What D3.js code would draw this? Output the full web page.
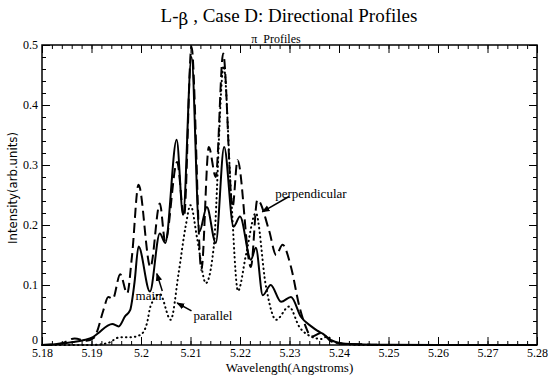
<!DOCTYPE html>
<html>
<head>
<meta charset="utf-8">
<script src="https://cdn.jsdelivr.net/npm/d3@7"></script>
<style>
  body { margin: 0; background: #fff; }
  svg { display: block; }
  .axis path { display: none; }
  .axis line { stroke: #000; stroke-width: 1; }
</style>
</head>
<body>
<svg id="plot" width="550" height="375"></svg>
<script>
// wavelength (Angstroms) / intensity (arb. units)
var mainWl = [5.18, 5.1837, 5.1863, 5.1883, 5.1903, 5.1914, 5.1932, 5.1942, 5.1955, 5.1968, 5.1978, 5.1987, 5.1995,
  5.2018, 5.2038, 5.2049, 5.2072, 5.2085, 5.2102, 5.2118, 5.2133, 5.2151, 5.2168, 5.2187, 5.22, 5.2222, 5.2232,
  5.2246, 5.2262, 5.2283, 5.2303, 5.2323, 5.2344, 5.2356, 5.2367, 5.2384, 5.2404, 5.245, 5.25, 5.26, 5.28];
var mainVal = [0, 0.002, 0.005, 0.008, 0.013, 0.02, 0.032, 0.035, 0.031, 0.048, 0.058, 0.105, 0.164,
  0.089, 0.186, 0.17, 0.342, 0.217, 0.48, 0.189, 0.23, 0.17, 0.33, 0.197, 0.214, 0.142, 0.162,
  0.083, 0.1, 0.072, 0.08, 0.047, 0.031, 0.024, 0.019, 0.008, 0.003, 0.001, 0.0005, 0, 0];

var perpWl = [5.18, 5.184, 5.1866, 5.189, 5.1905, 5.1911, 5.1924, 5.1934, 5.1943, 5.1958, 5.1972, 5.1982, 5.1995,
  5.2019, 5.2038, 5.2049, 5.2073, 5.2087, 5.2102, 5.2122, 5.2137, 5.2151, 5.2166, 5.2185, 5.2195, 5.2222, 5.2235,
  5.2259, 5.2273, 5.2286, 5.2303, 5.232, 5.2333, 5.2344, 5.2364, 5.2384, 5.2404, 5.245, 5.25, 5.28];
var perpVal = [0, 0.003, 0.011, 0.007, 0.012, 0.022, 0.058, 0.08, 0.077, 0.118, 0.086, 0.15, 0.267,
  0.13, 0.236, 0.172, 0.305, 0.214, 0.497, 0.125, 0.33, 0.28, 0.486, 0.23, 0.308, 0.13, 0.242,
  0.19, 0.15, 0.167, 0.13, 0.064, 0.03, 0.014, 0.02, 0.006, 0.002, 0.001, 0, 0];

var paraWl = [5.18, 5.19, 5.1932, 5.1958, 5.198, 5.1999, 5.2012, 5.2019, 5.2038, 5.206, 5.2076, 5.209, 5.21,
  5.2114, 5.2131, 5.2147, 5.2167, 5.2182, 5.2196, 5.2212, 5.2232, 5.2252, 5.2273, 5.2299, 5.232, 5.2344,
  5.2364, 5.2376, 5.2392, 5.245, 5.28];
var paraVal = [0, 0, 0.003, 0.013, 0.013, 0.017, 0.036, 0.064, 0.085, 0.042, 0.12, 0.197, 0.233,
  0.175, 0.103, 0.164, 0.465, 0.25, 0.09, 0.15, 0.22, 0.1, 0.042, 0.064, 0.03, 0.014,
  0.01, 0.014, 0.004, 0, 0];

var xTicks = [5.18, 5.19, 5.20, 5.21, 5.22, 5.23, 5.24, 5.25, 5.26, 5.27, 5.28];
var xTickLabels = ["5.18", "5.19", "5.2", "5.21", "5.22", "5.23", "5.24", "5.25", "5.26", "5.27", "5.28"];
var yTicks = [0, 0.1, 0.2, 0.3, 0.4, 0.5];
var yTickLabels = ["0", "0.1", "0.2", "0.3", "0.4", "0.5"];

// label text, anchor point, arrow start, arrow tip (data coords)
var notes = [
  {text: "main", at: [5.1989, 0.075], from: [5.2043, 0.09], to: [5.2032, 0.119]},
  {text: "parallel", at: [5.2106, 0.042], from: [5.2102, 0.057], to: [5.2073, 0.07]},
  {text: "perpendicular", at: [5.2271, 0.245], from: [5.2299, 0.2475], to: [5.2245, 0.222]}
];

var serif = "'Liberation Serif', 'Times New Roman', Times, serif";

var svg = d3.select("#plot"),
    margin = {top: 45, right: 13, bottom: 30, left: 42},
    width = 550 - margin.left - margin.right,
    height = 375 - margin.top - margin.bottom,
    g = svg.append("g").attr("transform", "translate(" + margin.left + "," + margin.top + ")");

var x = d3.scaleLinear().domain([5.18, 5.28]).range([0, width]);
var y = d3.scaleLinear().domain([0, 0.5]).range([height, 0]);

var xMinor = d3.range(0, 51).map(function(i) { return 5.18 + i * 0.002; });
var yMinor = d3.range(0, 26).map(function(i) { return i * 0.02; });

// minor ticks, all four sides
g.append("g").attr("class", "axis").attr("transform", "translate(0," + height + ")")
  .call(d3.axisBottom(x).tickValues(xMinor).tickSize(-4).tickFormat(""));
g.append("g").attr("class", "axis")
  .call(d3.axisTop(x).tickValues(xMinor).tickSize(-4).tickFormat(""));
g.append("g").attr("class", "axis")
  .call(d3.axisLeft(y).tickValues(yMinor).tickSize(-4).tickFormat(""));
g.append("g").attr("class", "axis").attr("transform", "translate(" + width + ",0)")
  .call(d3.axisRight(y).tickValues(yMinor).tickSize(-4).tickFormat(""));

// major ticks
var xAxis = g.append("g").attr("class", "axis").attr("transform", "translate(0," + height + ")")
  .call(d3.axisBottom(x).tickValues(xTicks).tickSize(-8).tickPadding(3)
    .tickFormat(function(d, i) { return xTickLabels[i]; }));
g.append("g").attr("class", "axis")
  .call(d3.axisTop(x).tickValues(xTicks).tickSize(-8).tickFormat(""));
var yAxis = g.append("g").attr("class", "axis")
  .call(d3.axisLeft(y).tickValues(yTicks).tickSize(-8).tickPadding(4)
    .tickFormat(function(d, i) { return yTickLabels[i]; }));
g.append("g").attr("class", "axis").attr("transform", "translate(" + width + ",0)")
  .call(d3.axisRight(y).tickValues(yTicks).tickSize(-8).tickFormat(""));

[xAxis, yAxis].forEach(function(a) {
  a.attr("font-family", serif).attr("font-size", 12);
  a.selectAll("text").attr("fill", "#000").style("font-family", serif).style("font-size", "12px");
});
// the "0" sits just above the corner so it clears "5.18"
yAxis.selectAll("text").filter(function(d) { return d === 0; }).attr("dy", "-0.1em");

g.append("rect")
  .attr("width", width).attr("height", height)
  .attr("fill", "none").attr("stroke", "#000").attr("stroke-width", 1.5);

var line = d3.line()
  .x(function(d) { return x(d[0]); })
  .y(function(d) { return y(d[1]); })
  .curve(d3.curveMonotoneX);

function zip(a, b) { return a.map(function(v, i) { return [v, b[i]]; }); }

g.append("path").datum(zip(paraWl, paraVal))
  .attr("d", line).attr("fill", "none").attr("stroke", "#000")
  .attr("stroke-width", 2).attr("stroke-linecap", "round").attr("stroke-dasharray", "0.5,4");
g.append("path").datum(zip(perpWl, perpVal))
  .attr("d", line).attr("fill", "none").attr("stroke", "#000")
  .attr("stroke-width", 2).attr("stroke-dasharray", "10,5");
g.append("path").datum(zip(mainWl, mainVal))
  .attr("d", line).attr("fill", "none").attr("stroke", "#000")
  .attr("stroke-width", 2);

svg.append("defs").append("marker")
  .attr("id", "arrow").attr("viewBox", "0 0 10 10")
  .attr("refX", 9).attr("refY", 5)
  .attr("markerWidth", 8).attr("markerHeight", 8)
  .attr("markerUnits", "userSpaceOnUse")
  .attr("orient", "auto")
  .append("path").attr("d", "M0,1L10,5L0,9Z").attr("fill", "#000");

notes.forEach(function(n) {
  g.append("line")
    .attr("x1", x(n.from[0])).attr("y1", y(n.from[1]))
    .attr("x2", x(n.to[0])).attr("y2", y(n.to[1]))
    .attr("stroke", "#000").attr("stroke-width", 1.5)
    .attr("marker-end", "url(#arrow)");
  g.append("text")
    .attr("x", x(n.at[0])).attr("y", y(n.at[1]))
    .style("font-family", serif).style("font-size", "13px")
    .text(n.text);
});

svg.append("text")
  .attr("x", 289).attr("y", 22).attr("text-anchor", "middle")
  .style("font-family", serif).style("font-size", "19px")
  .html('L-<tspan style="font-family: \'DejaVu Serif\', serif; font-size: 17px" dy="3">β</tspan><tspan dy="-3"> , Case D: Directional Profiles</tspan>');

svg.append("text")
  .attr("x", 276).attr("y", 43).attr("text-anchor", "middle")
  .style("font-family", serif).style("font-size", "12px")
  .html('π&#160;&#160;Profiles');

svg.append("text")
  .attr("x", margin.left + width / 2).attr("y", 372).attr("text-anchor", "middle")
  .style("font-family", serif).style("font-size", "13px")
  .text("Wavelength(Angstroms)");

svg.append("text")
  .attr("transform", "translate(17," + 188 + ") rotate(-90)")
  .attr("text-anchor", "middle")
  .style("font-family", "'Liberation Sans Narrow', 'DejaVu Sans Condensed', sans-serif").style("font-size", "13px")
  .text("Intensity(arb.units)");
</script>
</body>
</html>
